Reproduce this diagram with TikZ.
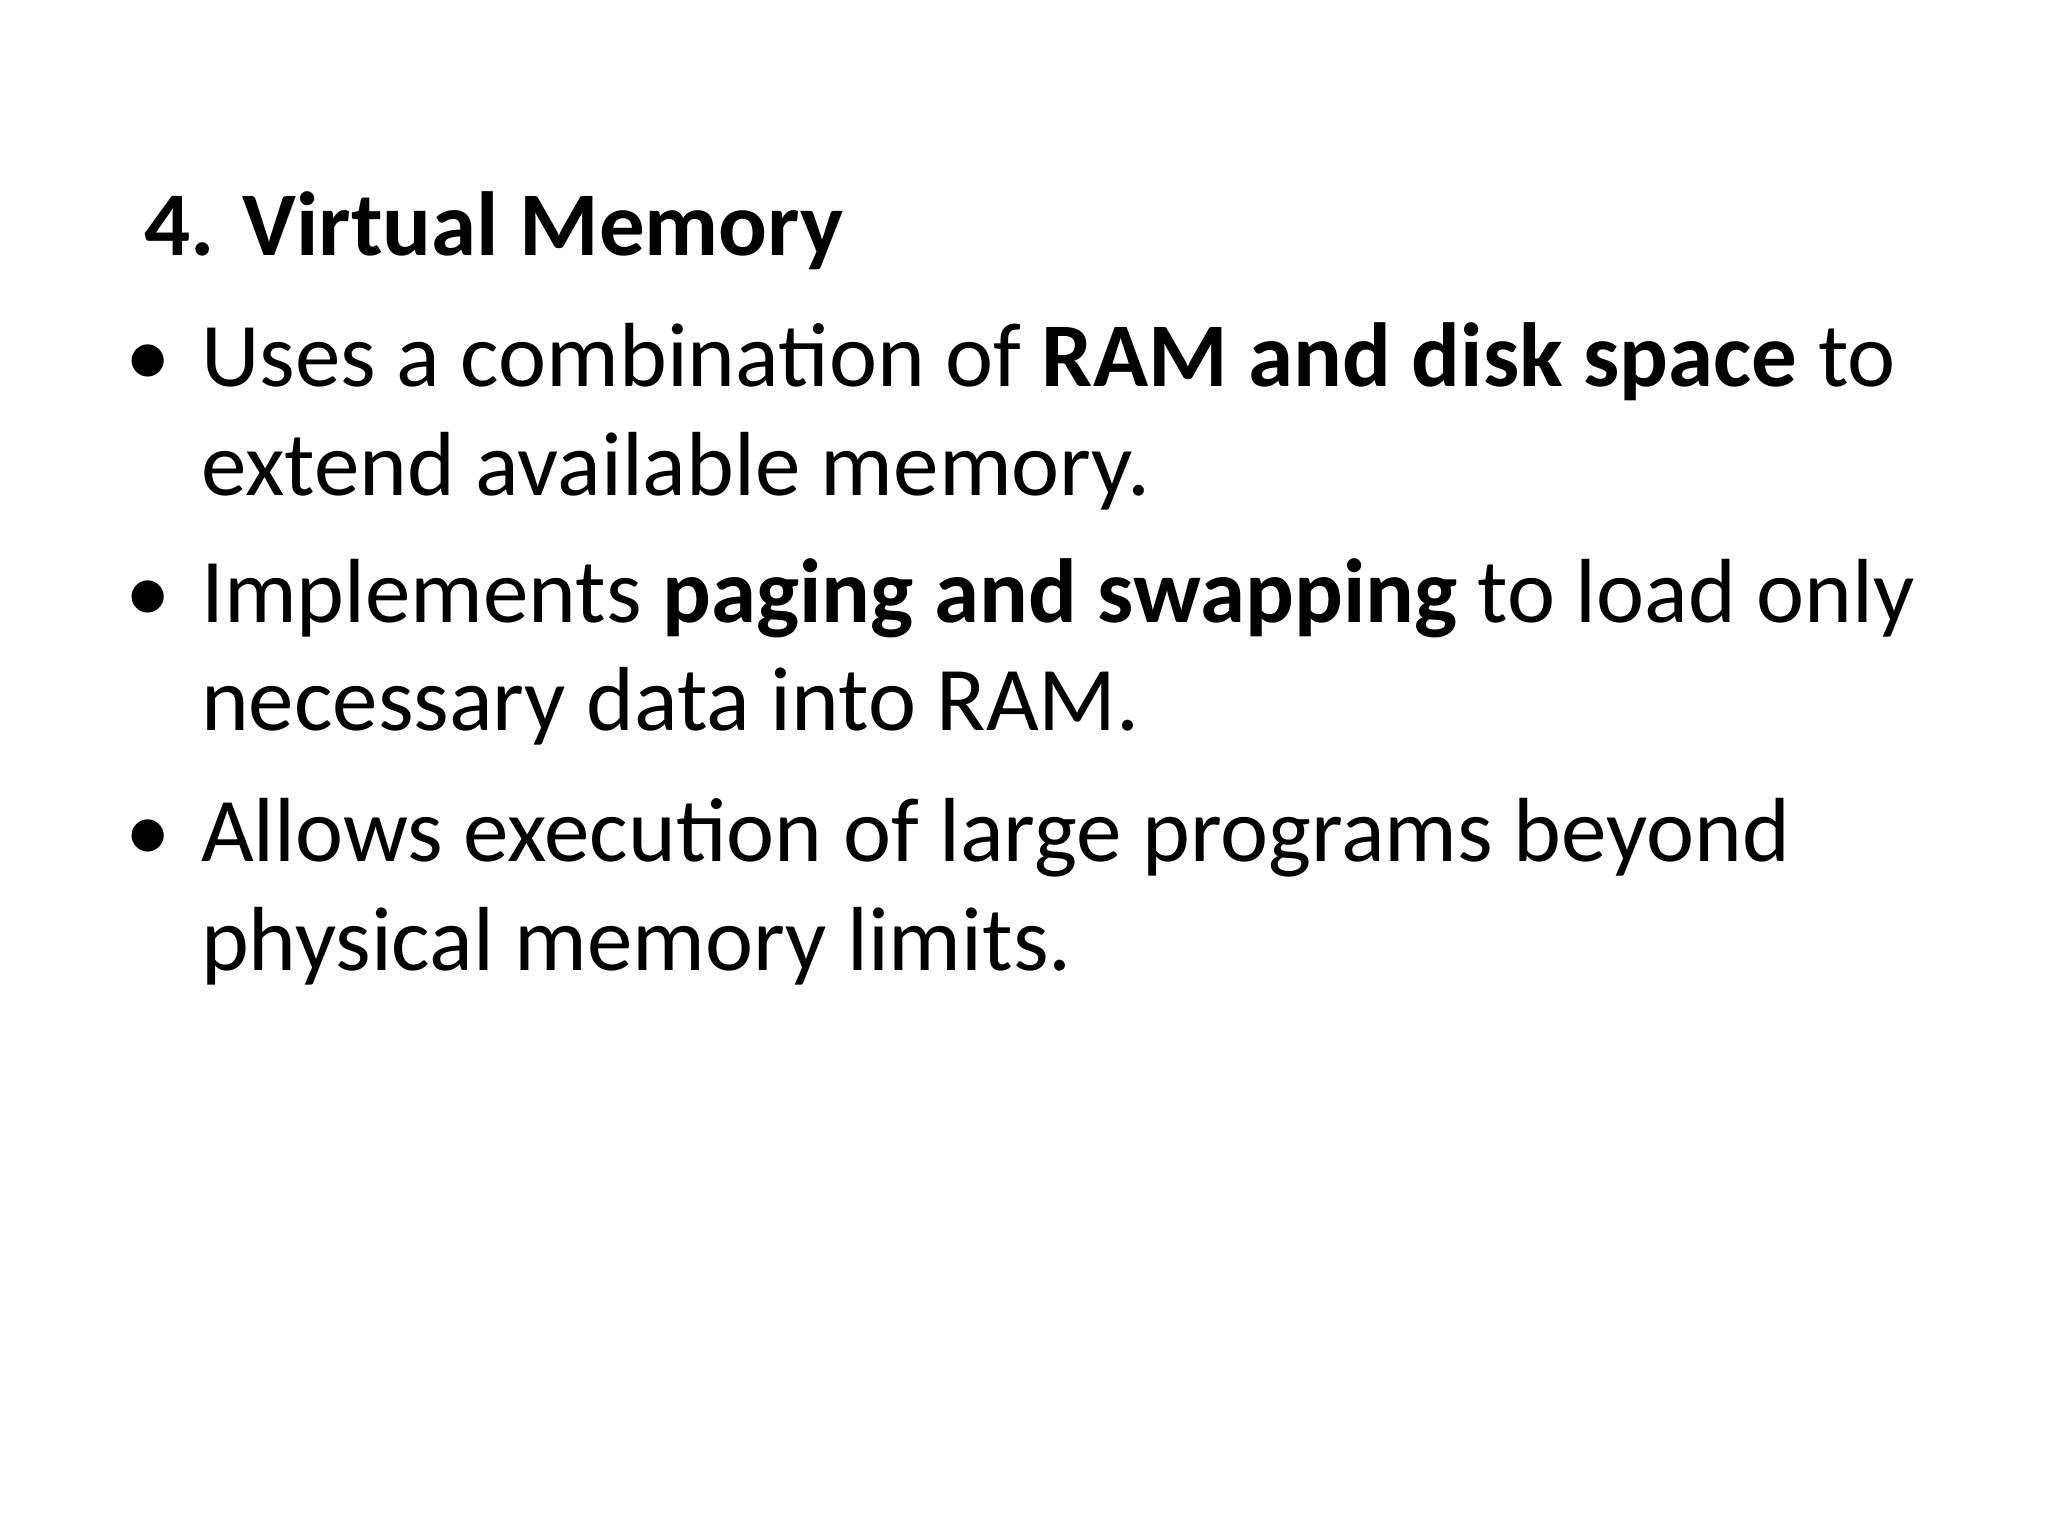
\documentclass[tikz,border=0pt]{standalone}
\usepackage{fontspec}
\setmainfont{Carlito}
\begin{document}
\begin{tikzpicture}[x=1pt,y=1pt,txt/.style={anchor=base west,inner sep=0pt,font=\fontsize{32}{38}\selectfont}]
\useasboundingbox (0,0) rectangle (720,-540);
\fill[white] (0,0) rectangle (720,-540);
\node[txt] (t) at (50.7,-89.9) {\textbf{4. Virtual Memory}};
\node[txt] (b1) at (44,-136) {\textbullet};
\node[txt] (l1) at (70.5,-136) {Uses a combination of \textbf{RAM and disk space} to};
\node[txt] (l2) at (70.5,-174.3) {extend available memory.};
\node[txt] (b2) at (44,-219) {\textbullet};
\node[txt] (l3) at (70.5,-219) {Implements \textbf{paging and swapping} to load only};
\node[txt] (l4) at (70.5,-256.8) {necessary data into RAM.};
\node[txt] (b3) at (44,-302.9) {\textbullet};
\node[txt] (l5) at (70.5,-302.9) {Allows execution of large programs beyond};
\node[txt] (l6) at (70.5,-341.1) {physical memory limits.};
\end{tikzpicture}
\end{document}
